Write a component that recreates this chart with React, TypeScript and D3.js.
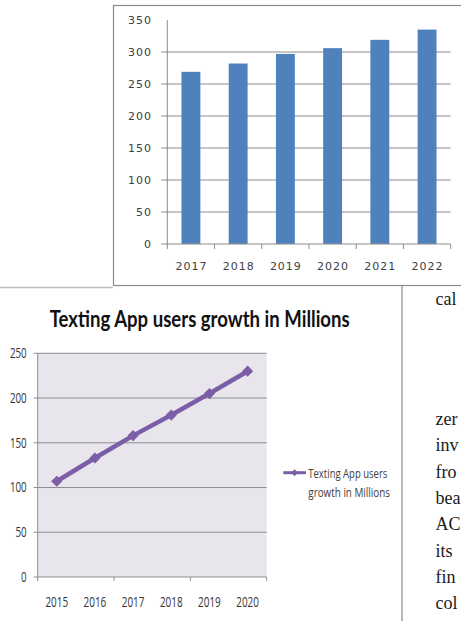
import * as d3 from 'd3';

// bar chart: yearly totals
const barYears = ['2017', '2018', '2019', '2020', '2021', '2022'];
const barValues = [269, 282, 297, 306, 319, 335];
const barTicks = [0, 50, 100, 150, 200, 250, 300, 350];

// line chart: texting app users (millions)
const lineTitle = 'Texting App users growth in Millions';
const lineYears = ['2015', '2016', '2017', '2018', '2019', '2020'];
const lineValues = [107, 133, 158, 181, 205, 230];
const lineTicks = [0, 50, 100, 150, 200, 250];
const legendLines = ['Texting App users', 'growth in Millions'];

// running text beside the figure
const sideWords = ['cal', 'zer', 'inv', 'fro', 'bea', 'AC', 'its', 'fin', 'col'];

const W = 461;
const H = 621;

const BAR = { left: 167.3, right: 450.7, top: 20, bottom: 244 };
const LINE = { left: 37.7, right: 266.7, top: 353.3, bottom: 577 };

const narrow = '"Liberation Sans Narrow", "Open Sans", sans-serif';

function BarChart() {
  const x = d3.scaleBand<string>()
    .domain(barYears)
    .range([BAR.left, BAR.right])
    .paddingInner(0.6)
    .paddingOuter(0.3);
  const y = d3.scaleLinear().domain([0, 350]).range([BAR.bottom, BAR.top]);
  const step = x.step();
  const bounds = d3.range(barYears.length + 1).map((i) => BAR.left + i * step);

  return (
    <g>
      <rect x={113.5} y={5.5} width={400} height={280} fill="#fff" stroke="#8a8a8a" strokeWidth={1.2} />
      {barTicks.filter((t) => t > 0 && t < 350).map((t) => (
        <line key={t} x1={BAR.left - 6} x2={BAR.right} y1={y(t)} y2={y(t)} stroke="#8c8c8c" strokeWidth={1} />
      ))}
      {barYears.map((yr, i) => (
        <rect
          key={yr}
          x={x(yr)}
          y={y(barValues[i])}
          width={x.bandwidth()}
          height={BAR.bottom - y(barValues[i])}
          fill="#4f81bd"
        />
      ))}
      <line x1={BAR.left} x2={BAR.left} y1={BAR.top} y2={BAR.bottom} stroke="#8c8c8c" />
      <line x1={BAR.left - 6} x2={BAR.right} y1={BAR.bottom} y2={BAR.bottom} stroke="#8c8c8c" />
      {bounds.map((bx) => (
        <line key={bx} x1={bx} x2={bx} y1={BAR.bottom} y2={BAR.bottom + 5} stroke="#8c8c8c" />
      ))}
      <g fontFamily='"DejaVu Sans", sans-serif' fontSize={11} fill="#404040" letterSpacing={1}>
        {barTicks.map((t) => (
          <text key={t} x={152} y={y(t)} dy="0.35em" textAnchor="end">{t}</text>
        ))}
        {barYears.map((yr) => (
          <text key={yr} x={(x(yr) ?? 0) + x.bandwidth() / 2 + 0.5} y={265.7} dy="0.35em" textAnchor="middle">{yr}</text>
        ))}
      </g>
    </g>
  );
}

function LineChart() {
  const x = d3.scalePoint<string>().domain(lineYears).range([LINE.left, LINE.right]).padding(0.5);
  const y = d3.scaleLinear().domain([0, 250]).range([LINE.bottom, LINE.top]);
  const step = x.step();
  const bounds = [0, 2, 4, 6].map((k) => LINE.left + k * step);
  const pts = lineYears.map((yr, i) => [x(yr) ?? 0, y(lineValues[i])] as [number, number]);
  const path = d3.line()(pts) ?? '';
  const diamond = d3.symbol(d3.symbolDiamond2, 80)() ?? '';

  return (
    <g>
      <line x1={0} x2={113} y1={287.5} y2={287.5} stroke="#bdbdbd" strokeWidth={1.5} />
      <line x1={402} x2={402} y1={285} y2={H} stroke="#8a8a8a" strokeWidth={1.2} />
      <text
        x={199.7}
        y={326.5}
        textAnchor="middle"
        fontFamily='Lato, "Open Sans", sans-serif'
        fontWeight={700}
        fontSize={23.5}
        textLength={300}
        lengthAdjust="spacingAndGlyphs"
        fill="#111"
      >
        {lineTitle}
      </text>
      <rect x={LINE.left} y={LINE.top} width={LINE.right - LINE.left} height={LINE.bottom - LINE.top} fill="#e8e5ec" />
      {lineTicks.filter((t) => t > 0).map((t) => (
        <line key={t} x1={LINE.left - 4} x2={LINE.right} y1={y(t)} y2={y(t)} stroke="#8e8e8e" strokeWidth={1} />
      ))}
      <line x1={LINE.left} x2={LINE.left} y1={LINE.top} y2={LINE.bottom} stroke="#8e8e8e" />
      <line x1={LINE.left - 4} x2={LINE.right} y1={LINE.bottom} y2={LINE.bottom} stroke="#8e8e8e" />
      {bounds.map((bx) => (
        <line key={bx} x1={bx} x2={bx} y1={LINE.bottom} y2={LINE.bottom + 4} stroke="#8e8e8e" />
      ))}
      <path d={path} fill="none" stroke="#7b5ea7" strokeWidth={4.5} strokeLinejoin="round" />
      {pts.map(([px, py], i) => (
        <path key={lineYears[i]} d={diamond} transform={`translate(${px},${py})`} fill="#7b5ea7" />
      ))}
      <g fontFamily={narrow} fontSize={14} fill="#333">
        {lineTicks.map((t) => (
          <text
            key={t}
            x={26.7}
            y={y(t)}
            dy="0.35em"
            textAnchor="end"
            textLength={String(t).length * 5.6}
            lengthAdjust="spacingAndGlyphs"
          >
            {t}
          </text>
        ))}
        {lineYears.map((yr) => (
          <text
            key={yr}
            x={x(yr)}
            y={601.7}
            dy="0.35em"
            textAnchor="middle"
            textLength={22.7}
            lengthAdjust="spacingAndGlyphs"
          >
            {yr}
          </text>
        ))}
      </g>
      <line x1={283.3} x2={306} y1={472.7} y2={472.7} stroke="#7b5ea7" strokeWidth={3} />
      <path d={d3.symbol(d3.symbolDiamond2, 30)() ?? ''} transform="translate(294.6,472.7)" fill="#7b5ea7" />
      <g fontFamily={narrow} fontSize={13} fill="#404040">
        <text x={308.3} y={473.3} dy="0.35em" textLength={79} lengthAdjust="spacingAndGlyphs">{legendLines[0]}</text>
        <text x={308.3} y={492.3} dy="0.35em" textLength={81.7} lengthAdjust="spacingAndGlyphs">{legendLines[1]}</text>
      </g>
    </g>
  );
}

function SideText() {
  return (
    <g fontFamily='"Liberation Serif", "Times New Roman", serif' fontSize={18} fill="#1a1a1a">
      {sideWords.map((w, i) => (
        <text key={w} x={435.5} y={i === 0 ? 305 : 425 + (i - 1) * 26.3}>{w}</text>
      ))}
    </g>
  );
}

export default function App() {
  return (
    <svg
      width={W}
      height={H}
      viewBox={`0 0 ${W} ${H}`}
      style={{ position: 'fixed', left: 0, top: 0, background: '#fff' }}
    >
      <rect width={W} height={H} fill="#fff" />
      <BarChart />
      <LineChart />
      <SideText />
    </svg>
  );
}
